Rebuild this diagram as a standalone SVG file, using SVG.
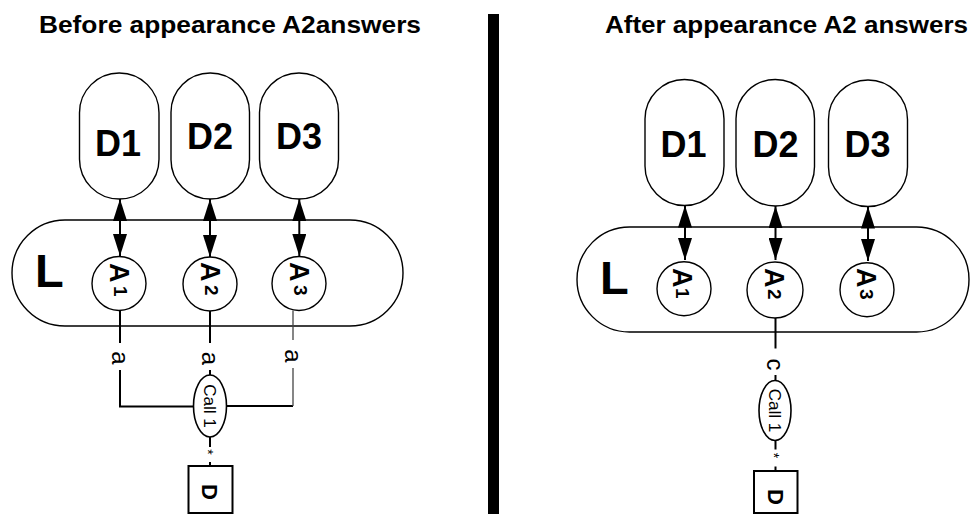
<svg xmlns="http://www.w3.org/2000/svg" width="979" height="514" viewBox="0 0 979 514">
<style>
  .title{font-family:"Liberation Sans",Arial,sans-serif;font-weight:bold;font-size:23px;fill:#000}
  .pill{fill:#fff;stroke:#000;stroke-width:1.4}
  .dlab{font-family:"Liberation Sans",Arial,sans-serif;font-weight:bold;font-size:36px;fill:#000;text-anchor:middle}
  .llab{font-family:"Liberation Sans",Arial,sans-serif;font-weight:bold;font-size:47px;fill:#000}
  .circ{fill:#fff;stroke:#000;stroke-width:1.4}
  .alab{font-family:"Liberation Sans",Arial,sans-serif;font-weight:bold;font-size:27px;fill:#000}
  .sub{font-size:19px}
  .ell{fill:#fff;stroke:#000;stroke-width:1.6}
  .call{font-family:"Liberation Sans",Arial,sans-serif;font-size:17px;fill:#000;text-anchor:middle}
  .box{fill:#fff;stroke:#000;stroke-width:2}
  .blab{font-family:"Liberation Sans",Arial,sans-serif;font-weight:bold;font-size:22px;fill:#000}
  .elab{font-family:"Liberation Sans",Arial,sans-serif;font-size:24px;fill:#000;text-anchor:middle;writing-mode:vertical-rl}
  .star{font-family:"Liberation Sans",Arial,sans-serif;font-size:14px;fill:#000;text-anchor:middle;writing-mode:vertical-rl}
  .conn{fill:none;stroke:#000;stroke-width:2}
  .thin{fill:none;stroke:#444;stroke-width:1.3}
  .arr{fill:none;stroke:#000;stroke-width:2;marker-start:url(#ah);marker-end:url(#ah)}
</style>
<defs>
  <marker id="ah" viewBox="0 0 22 14" refX="22" refY="7" markerWidth="22" markerHeight="14" markerUnits="userSpaceOnUse" orient="auto-start-reverse">
    <path d="M0,0 L22,7 L0,14 Z" fill="#000"/>
  </marker>
</defs>

<text class="title" x="39" y="32.7" textLength="382" lengthAdjust="spacingAndGlyphs">Before appearance A2answers</text>
<text class="title" x="605" y="32.7" textLength="363" lengthAdjust="spacingAndGlyphs">After appearance A2 answers</text>
<rect x="488" y="14" width="11" height="500" fill="#000"/>

<!-- LEFT PANEL -->
<g id="left-L">
  <rect class="pill" x="12" y="220" width="391" height="106" rx="53" ry="53"/>
  <text class="llab" x="35" y="287">L</text>
</g>
<g id="left-D1">
  <rect class="pill" x="79.5" y="73" width="79.5" height="126" rx="39.7" ry="39.7"/>
  <text class="dlab" x="118" y="156">D1</text>
</g>
<g id="left-D2">
  <rect class="pill" x="171" y="73" width="78.5" height="126" rx="39.2" ry="39.2"/>
  <text class="dlab" x="210" y="149">D2</text>
</g>
<g id="left-D3">
  <rect class="pill" x="259.5" y="73" width="79" height="126" rx="39.5" ry="39.5"/>
  <text class="dlab" x="299" y="149">D3</text>
</g>
<g id="left-A1">
  <circle class="circ" cx="119" cy="283.5" r="27"/>
  <text class="alab" x="110" y="263" rotate="90">A<tspan class="sub" x="114" y="286" rotate="90">1</tspan></text>
</g>
<g id="left-A2">
  <circle class="circ" cx="210" cy="284" r="27"/>
  <text class="alab" x="200.5" y="262" rotate="90">A<tspan class="sub" x="204.5" y="285" rotate="90">2</tspan></text>
</g>
<g id="left-A3">
  <circle class="circ" cx="299" cy="283.5" r="27"/>
  <text class="alab" x="289.5" y="262" rotate="90">A<tspan class="sub" x="293.5" y="285" rotate="90">3</tspan></text>
</g>
<g id="left-Call1">
  <ellipse class="ell" cx="210" cy="406" rx="16.5" ry="31"/>
  <g transform="translate(210,406) rotate(90)"><text class="call" x="0" y="6">Call 1</text></g>
</g>
<g id="left-D">
  <rect class="box" x="188.5" y="466" width="44" height="47"/>
  <text class="blab" x="202" y="484" rotate="90">D</text>
</g>

<!-- RIGHT PANEL -->
<g id="right-L">
  <rect class="pill" x="577" y="227" width="392" height="105" rx="52.5" ry="52.5"/>
  <text class="llab" x="600" y="294">L</text>
</g>
<g id="right-D1">
  <rect class="pill" x="645" y="79.5" width="79" height="126" rx="39.5" ry="39.5"/>
  <text class="dlab" x="683.5" y="157">D1</text>
</g>
<g id="right-D2">
  <rect class="pill" x="736" y="79.5" width="78.5" height="126.5" rx="39.2" ry="39.2"/>
  <text class="dlab" x="775.5" y="157">D2</text>
</g>
<g id="right-D3">
  <rect class="pill" x="828.5" y="80" width="79" height="126.5" rx="39.5" ry="39.5"/>
  <text class="dlab" x="867.5" y="157">D3</text>
</g>
<g id="right-A1">
  <circle class="circ" cx="684" cy="288.7" r="27"/>
  <text class="alab" x="673" y="268" rotate="90">A<tspan class="sub" x="676" y="288" rotate="90">1</tspan></text>
</g>
<g id="right-A2">
  <circle class="circ" cx="775" cy="290" r="28"/>
  <text class="alab" x="764.5" y="268" rotate="90">A<tspan class="sub" x="767.5" y="289" rotate="90">2</tspan></text>
</g>
<g id="right-A3">
  <circle class="circ" cx="867" cy="289.7" r="27"/>
  <text class="alab" x="856.5" y="268" rotate="90">A<tspan class="sub" x="859.5" y="289" rotate="90">3</tspan></text>
</g>
<g id="right-Call1">
  <ellipse class="ell" cx="775" cy="410.5" rx="16" ry="30"/>
  <g transform="translate(775,410.5) rotate(90)"><text class="call" x="0" y="6">Call 1</text></g>
</g>
<g id="right-D">
  <rect class="box" x="754" y="471" width="43.5" height="42"/>
  <text class="blab" x="767.5" y="489" rotate="90">D</text>
</g>

<g id="connectors">
  <line class="arr" x1="120" y1="199" x2="120" y2="256"/>
  <line class="arr" x1="210" y1="199" x2="210" y2="257"/>
  <line class="arr" x1="299.3" y1="199" x2="299.3" y2="256"/>
  <polyline class="conn" points="120,310.5 120,343"/>
  <polyline class="conn" points="120,370 120,406.5 193.5,406.5"/>
  <polyline class="conn" points="210,311 210,343"/>
  <polyline class="conn" points="210,370 210,375"/>
  <polyline class="thin" points="293,310.5 293,340"/>
  <polyline class="conn" points="226.5,406 293,406"/>
  <polyline class="thin" points="293,406 293,368"/>
  <polyline class="conn" points="210,437 210,447"/>
  <polyline class="conn" points="210,462 210,466"/>
  <text class="elab" x="120" y="358">a</text>
  <text class="elab" x="210" y="358.5">a</text>
  <text class="elab" x="293" y="356">a</text>
  <text class="star" x="208" y="452">*</text>
  <line class="arr" x1="685" y1="205.5" x2="685" y2="260"/>
  <line class="arr" x1="775.5" y1="206" x2="775.5" y2="260"/>
  <line class="arr" x1="868" y1="206.5" x2="868" y2="261"/>
  <polyline class="conn" points="775.5,318 775.5,348.5"/>
  <polyline class="conn" points="775.5,375 775.5,380.5"/>
  <polyline class="conn" points="775.5,440.5 775.5,449.5"/>
  <polyline class="conn" points="775.5,466.5 775.5,471"/>
  <text class="elab" x="775" y="364.5">c</text>
  <text class="star" x="773.5" y="455.5">*</text>
</g>
</svg>
